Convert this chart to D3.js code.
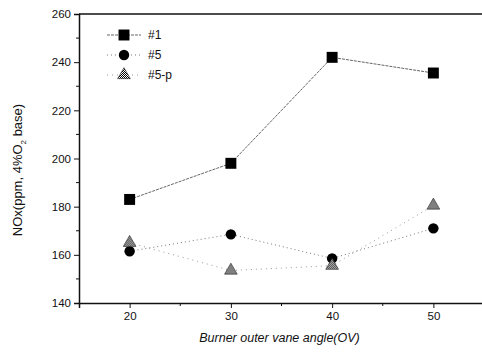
<!DOCTYPE html>
<html>
<head>
<meta charset="utf-8">
<script src="https://cdn.jsdelivr.net/npm/d3@7"></script>
<style>
  body { margin: 0; background: #fff; }
  text { font-family: "Liberation Sans", Arial, sans-serif; fill: #111; }
</style>
</head>
<body>
<div id="chart"></div>
<script>
// data
var angles = [20, 30, 40, 50];
var nox_1 = [183, 198, 242, 235.5];
var nox_5 = [161.5, 168.5, 158.5, 171];
var nox_5p = [165, 153.5, 155.5, 180.5];
var seriesNames = ["#1", "#5", "#5-p"];
var yTicks = [140, 160, 180, 200, 220, 240, 260];
var xTicks = [20, 30, 40, 50];

(function () {
    "use strict";

    var W = 482, H = 352;
    var margin = { left: 79, top: 14, right: 0, bottom: 49 };

    var svg = d3.select("#chart").append("svg")
        .attr("width", W).attr("height", H);

    // checkered fill for the triangles
    var pat = svg.append("defs").append("pattern")
        .attr("id", "checker")
        .attr("patternUnits", "userSpaceOnUse")
        .attr("width", 2).attr("height", 2);
    pat.append("rect").attr("width", 2).attr("height", 2).attr("fill", "#fff");
    pat.append("rect").attr("width", 1).attr("height", 1).attr("fill", "#000");
    pat.append("rect").attr("x", 1).attr("y", 1).attr("width", 1).attr("height", 1).attr("fill", "#000");

    var x = d3.scaleLinear().domain([15, 55]).range([margin.left, 484]);
    var y = d3.scaleLinear().domain([140, 260]).range([H - margin.bottom, margin.top]);

    var axisColor = "#111";

    // minor ticks
    var yMinor = d3.range(150, 260, 20);
    svg.append("g").selectAll("line").data(yMinor).enter().append("line")
        .attr("x1", x(15) - 3).attr("x2", x(15))
        .attr("y1", function (d) { return y(d); }).attr("y2", function (d) { return y(d); })
        .attr("stroke", axisColor).attr("stroke-width", 1);
    var xMinor = [25, 35, 45];
    svg.append("g").selectAll("line").data(xMinor).enter().append("line")
        .attr("x1", function (d) { return x(d); }).attr("x2", function (d) { return x(d); })
        .attr("y1", y(140)).attr("y2", y(140) + 3)
        .attr("stroke", axisColor).attr("stroke-width", 1);

    // axes
    var yAxis = svg.append("g")
        .attr("transform", "translate(" + x(15) + ",0)")
        .call(d3.axisLeft(y).tickValues(yTicks).tickSize(5).tickPadding(3));
    var xAxis = svg.append("g")
        .attr("transform", "translate(0," + y(140) + ")")
        .call(d3.axisBottom(x).tickValues(xTicks).tickSize(5).tickPadding(4));

    [yAxis, xAxis].forEach(function (g) {
        g.select(".domain").attr("stroke", axisColor).attr("stroke-width", 1.5);
        g.selectAll(".tick line").attr("stroke", axisColor).attr("stroke-width", 1);
        g.selectAll(".tick text")
            .attr("font-size", 11.5)
            .attr("font-family", "Liberation Sans, Arial, sans-serif")
            .attr("fill", "#111");
    });

    // top frame
    svg.append("line")
        .attr("x1", x(15)).attr("x2", W)
        .attr("y1", y(260)).attr("y2", y(260))
        .attr("stroke", axisColor).attr("stroke-width", 1.5);

    // axis titles
    svg.append("text")
        .attr("x", x(35) - 2).attr("y", 342)
        .attr("text-anchor", "middle")
        .attr("font-size", 12.5).attr("font-style", "italic")
        .text("Burner outer vane angle(OV)");

    var yt = svg.append("text")
        .attr("transform", "translate(22,170) rotate(-90)")
        .attr("text-anchor", "middle")
        .attr("font-size", 13);
    yt.append("tspan").text("NOx(ppm, 4%O");
    yt.append("tspan").attr("font-size", 8).attr("dy", 4).text("2");
    yt.append("tspan").attr("dy", -4).text(" base)");

    var series = [
        { name: seriesNames[0], vals: nox_1, shape: d3.symbolSquare, size: 120, fill: "#000", dash: "3,1", color: "#666" },
        { name: seriesNames[1], vals: nox_5, shape: d3.symbolCircle, size: 85, fill: "#000", dash: "1,3", color: "#777" },
        { name: seriesNames[2], vals: nox_5p, shape: d3.symbolTriangle, size: 70, fill: "url(#checker)", dash: "1,4", color: "#999" }
    ];

    var line = d3.line()
        .x(function (d, i) { return x(angles[i]); })
        .y(function (d) { return y(d); });

    series.forEach(function (s) {
        svg.append("path")
            .datum(s.vals)
            .attr("d", line)
            .attr("fill", "none")
            .attr("stroke", s.color)
            .attr("stroke-width", 1)
            .attr("stroke-dasharray", s.dash);
    });

    series.forEach(function (s) {
        svg.append("g").selectAll("path").data(s.vals).enter().append("path")
            .attr("d", d3.symbol().type(s.shape).size(s.size))
            .attr("transform", function (d, i) { return "translate(" + x(angles[i]) + "," + y(d) + ")"; })
            .attr("fill", s.fill)
            .attr("stroke", s.shape === d3.symbolTriangle ? "#222" : "none")
            .attr("stroke-width", 0.6);
    });

    // legend
    var lg = svg.append("g");
    series.forEach(function (s, i) {
        var ly = 35 + i * 20;
        lg.append("line")
            .attr("x1", 107).attr("x2", 141)
            .attr("y1", ly).attr("y2", ly)
            .attr("stroke", s.color).attr("stroke-width", 1)
            .attr("stroke-dasharray", s.dash);
        lg.append("path")
            .attr("d", d3.symbol().type(s.shape).size(s.size))
            .attr("transform", "translate(124," + ly + ")")
            .attr("fill", s.fill)
            .attr("stroke", s.shape === d3.symbolTriangle ? "#222" : "none")
            .attr("stroke-width", 0.6);
        lg.append("text")
            .attr("x", 148).attr("y", ly + 4)
            .attr("font-size", 12)
            .text(s.name);
    });
}());
</script>
</body>
</html>
